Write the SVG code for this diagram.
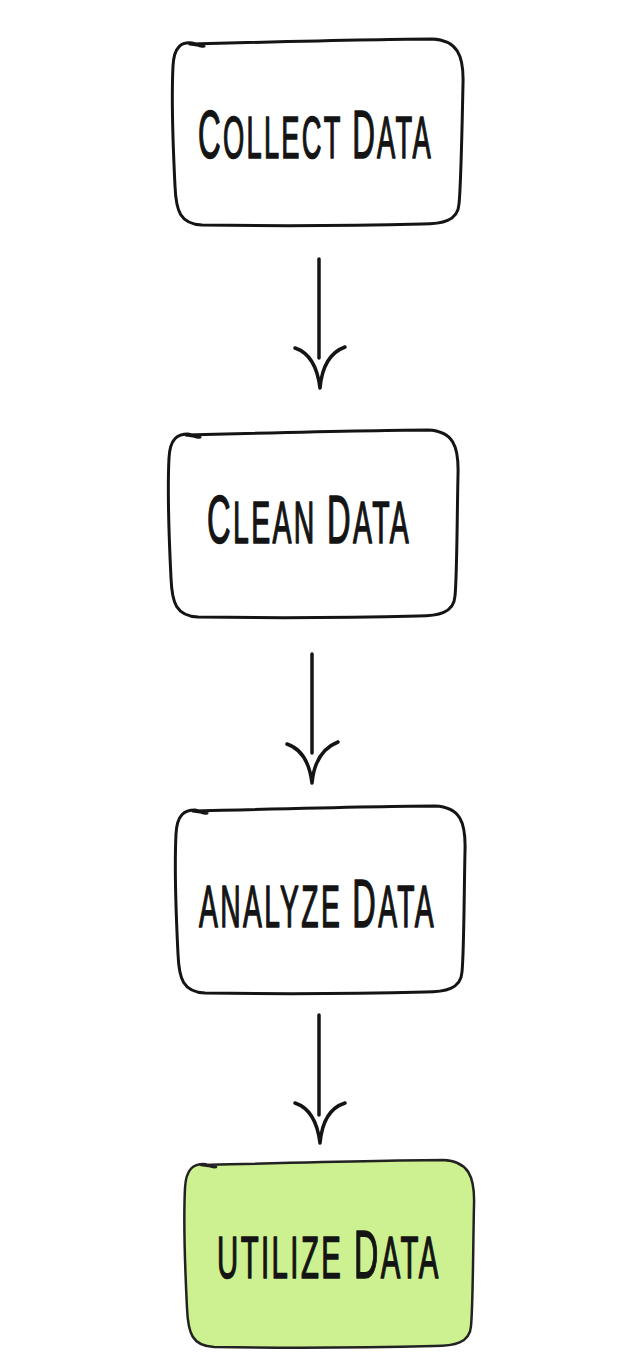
<svg xmlns="http://www.w3.org/2000/svg" width="630" height="1366" viewBox="0 0 630 1366">
<style>
.box{fill:#ffffff;stroke:#141414;stroke-width:3;stroke-linejoin:round;stroke-linecap:round}
.green{fill:#cdf191;stroke:#222;stroke-width:2.5}
.lbl{font-family:"Liberation Sans",Arial,sans-serif;font-size:60px;letter-spacing:5px;fill:#141414;stroke:#141414;stroke-width:1.6;stroke-linejoin:round}
.big{font-size:69px}
.conn path{fill:none;stroke:#141414;stroke-width:3.5;stroke-linecap:round;stroke-linejoin:round}
</style>
<rect width="630" height="1366" fill="#ffffff"/>
<g id="collect">
<path class="box" d="M190 44 C232 43 382 39 432 39 C457 40 464 55 463 84 C462 130 461 185 459 204 C458 221 442 224 422 224 C342 226 272 226 202 225 C180 224 176 211 175 186 C173 146 171 106 173 66 C174 46 182 42 192 43 C198 44 198 47 204 46 Z"/>
<text class="lbl" transform="translate(198,158) scale(0.455,1)" x="0" y="0"><tspan class="big">C</tspan>OLLECT <tspan class="big">D</tspan>ATA</text>
</g>
<g id="clean">
<path class="box" d="M186 435 C228 434 378 430 428 430 C453 431 459 446 458 475 C457 521 457 576 455 596 C454 613 438 616 418 616 C338 618 268 618 198 617 C176 616 172 603 171 578 C169 538 167 498 169 458 C170 438 178 434 188 434 C194 435 194 438 200 437 Z"/>
<text class="lbl" transform="translate(207,543) scale(0.474,1)" x="0" y="0"><tspan class="big">C</tspan>LEAN <tspan class="big">D</tspan>ATA</text>
</g>
<g id="analyze">
<path class="box" d="M193 811 C235 810 385 806 435 806 C460 807 466 822 465 851 C464 897 464 952 462 972 C461 989 445 992 425 992 C345 994 275 994 205 993 C183 992 179 979 178 954 C176 914 174 874 176 834 C177 814 185 810 195 810 C201 811 201 814 207 813 Z"/>
<text class="lbl" transform="translate(199,927) scale(0.471,1)" x="0" y="0">ANALYZE <tspan class="big">D</tspan>ATA</text>
</g>
<g id="utilize">
<path class="box green" d="M201 1165 C243 1164 393 1160 443 1160 C468 1161 475 1176 474 1205 C473 1251 473 1306 471 1326 C470 1343 454 1346 434 1346 C354 1348 284 1348 214 1347 C192 1346 188 1333 187 1308 C185 1268 183 1228 185 1188 C186 1168 194 1164 204 1164 C210 1165 210 1168 216 1167 Z"/>
<text class="lbl" transform="translate(217,1278) scale(0.489,1)" x="0" y="0">UTILIZE <tspan class="big">D</tspan>ATA</text>
</g>
<g id="connectors" class="conn">
<path d="M319 259 L319 358"/>
<path d="M295 348 Q316 355 320 388 Q323 355 345 347"/>
<path d="M312 654 L312 753"/>
<path d="M287 744 Q308 751 312 783 Q315 751 338 742"/>
<path d="M319 1015 L319 1115"/>
<path d="M295 1103 Q316 1110 320 1143 Q323 1110 345 1103"/>
</g>
</svg>
